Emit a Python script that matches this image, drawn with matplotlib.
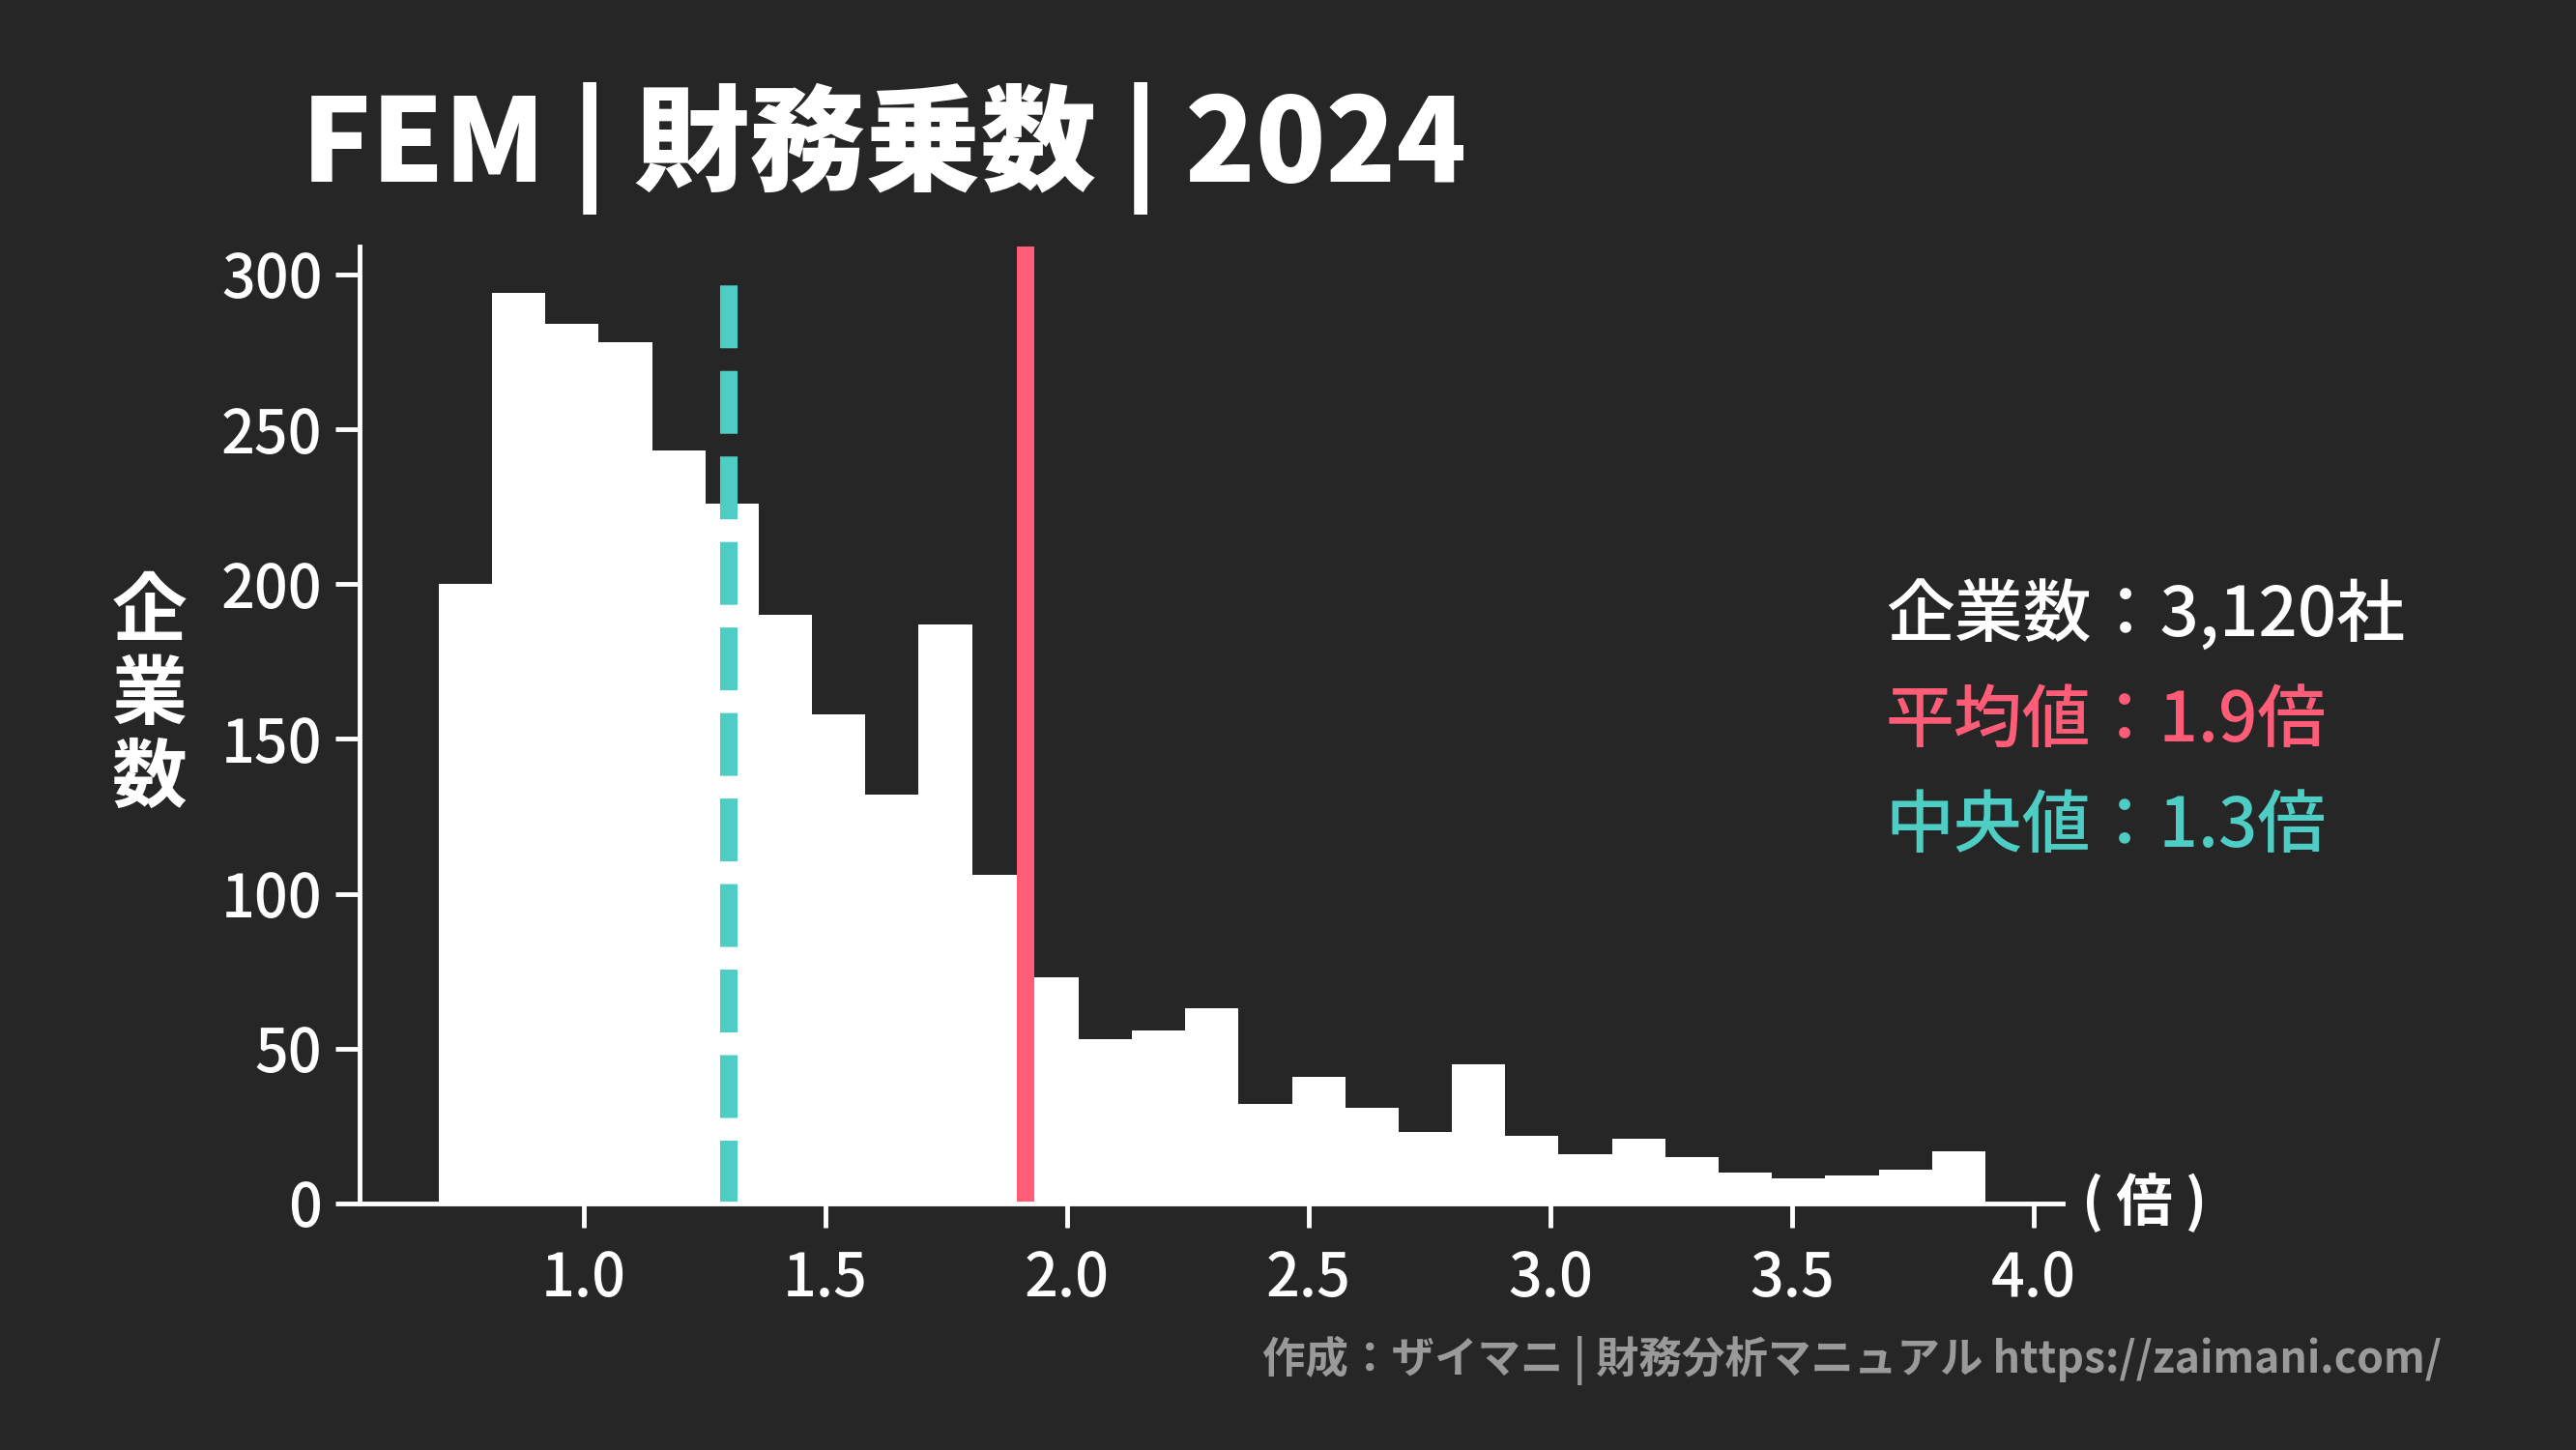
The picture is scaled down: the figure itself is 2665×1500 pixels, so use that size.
import numpy as np
import matplotlib
matplotlib.use("Agg")
import matplotlib.pyplot as plt

counts = [200, 294, 284, 278, 243, 226, 190, 158, 132, 187, 106, 73, 53, 56, 63,
          32, 41, 31, 23, 45, 22, 16, 21, 15, 10, 8, 9, 11, 17]
bin_start = 0.70
bin_end = 3.90
mean_val = 1.915
median_val = 1.30
x_ticks = [1.0, 1.5, 2.0, 2.5, 3.0, 3.5, 4.0]
y_ticks = [0, 50, 100, 150, 200, 250, 300]

FONT = "Noto Sans CJK JP"
BG = "#262626"
RED = "#FF5C77"
TEAL = "#4ECDC4"

fig = plt.figure(figsize=(26.65, 15), dpi=100, facecolor=BG)
ax = fig.add_axes([0.1397, 0.170, 0.661, 0.660], facecolor=BG)

edges = np.linspace(bin_start, bin_end, len(counts) + 1)
ax.bar(edges[:-1], counts, width=np.diff(edges), align="edge", color="white", linewidth=0)
ax.axvline(median_val, color=TEAL, lw=13, ls=(0, (3.6, 1.3)), ymax=0.975)
ax.axvline(mean_val, color=RED, lw=13)

ax.set_xlim(0.537, 4.06)
ax.set_ylim(0, 309)
ax.set_xticks(x_ticks)
ax.set_xticklabels([f"{v:.1f}" for v in x_ticks])
ax.set_yticks(y_ticks)
for s in ["top", "right"]:
    ax.spines[s].set_visible(False)
for s in ["left", "bottom"]:
    ax.spines[s].set_color("white")
    ax.spines[s].set_linewidth(3.5)
ax.tick_params(colors="white", width=3.5, length=18, labelsize=44, pad=10)
ax.tick_params(axis="x", pad=16)
for lab in ax.get_xticklabels() + ax.get_yticklabels():
    lab.set_fontfamily(FONT)
    lab.set_fontweight("medium")

ax.text(4.10, 0, "( 倍 )", color="white", fontsize=42, fontfamily=FONT,
        fontweight="bold", va="center", ha="left")
fig.text(0.058, 0.52, "企\n業\n数", color="white", fontsize=56, fontfamily=FONT,
         fontweight="bold", ha="center", va="center", linespacing=1.1)

fig.text(0.117, 0.898, "FEM | 財務乗数 | 2024", color="white", fontsize=86,
         fontfamily=FONT, fontweight="black", ha="left", va="center")

fig.text(0.732, 0.575, "企業数：3,120社", color="white", fontsize=51, fontfamily=FONT,
         fontweight="medium", va="center")
fig.text(0.732, 0.502, "平均値：1.9倍", color=RED, fontsize=51, fontfamily=FONT,
         fontweight="medium", va="center")
fig.text(0.732, 0.429, "中央値：1.3倍", color=TEAL, fontsize=51, fontfamily=FONT,
         fontweight="medium", va="center")

fig.text(0.948, 0.062, "作成：ザイマニ | 財務分析マニュアル https://zaimani.com/",
         color="#9a9a9a", fontsize=32, fontfamily=FONT, fontweight="bold",
         ha="right", va="center")

fig.savefig("out.png", dpi=100, facecolor=BG)
